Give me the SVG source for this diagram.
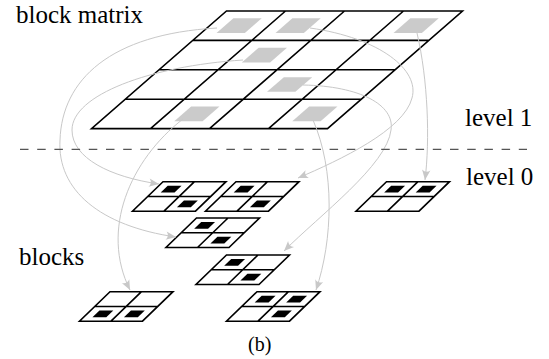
<svg xmlns="http://www.w3.org/2000/svg" width="549" height="359" viewBox="0 0 549 359">
<style>
.grid{fill:none;stroke:#000;stroke-width:1.6;stroke-linejoin:miter}
.gsq{fill:#cbcbcb}
.bframe{fill:#fff;stroke:#000;stroke-width:1.6;stroke-linejoin:miter}
.bsq{fill:#000}
.conn{fill:none;stroke:#c8c8c8;stroke-width:1}
.dash{fill:none;stroke:#555;stroke-width:1.2;stroke-dasharray:8.5 8.7}
text{font-family:"Liberation Serif","Times New Roman",serif !important;fill:#000}
</style>
<defs>
<polygon id="gq" class="gsq" points="6.9,7.35 35.22,7.35 18.35,22.05 -9.97,22.05"/>
<path id="bf" class="bframe" d="M0,0 H63 L32.5,29.5 H-30.5 Z M-15.25,14.75 H47.75 M31.5,0 L1,29.5"/>
<polygon id="bq" class="bsq" points="4.70,3.98 18.56,3.98 11.55,10.77 -2.31,10.77"/>
<marker id="arr" markerUnits="userSpaceOnUse" viewBox="-11 -5 12 10" refX="0" refY="0" markerWidth="12" markerHeight="10" orient="auto">
<path d="M0,0 L-10,-4.2 Q-6.5,0 -10,4.2 Z" fill="#c8c8c8"/>
</marker>
</defs>
<rect width="549" height="359" fill="#fff"/>

<g id="matrix">
<use href="#gq" x="226.5" y="11"/>
<use href="#gq" x="285.5" y="11"/>
<use href="#gq" x="403.5" y="11"/>
<use href="#gq" x="251.75" y="40.4"/>
<use href="#gq" x="277" y="69.8"/>
<use href="#gq" x="184.25" y="99.2"/>
<use href="#gq" x="302.25" y="99.2"/>
<path class="grid" d="M226.5,11 H462.5 L327.5,128.6 H91.5 Z M192.75,40.4 H428.75 M159,69.8 H395 M125.25,99.2 H361.25 M285.5,11 L150.5,128.6 M344.5,11 L209.5,128.6 M403.5,11 L268.5,128.6"/>
</g>

<g id="block-a" transform="translate(163,181.7)">
<use href="#bf"/><use href="#bq"/><use href="#bq" x="16.25" y="14.75"/>
</g>
<g id="block-b" transform="translate(236,181.7)">
<use href="#bf"/><use href="#bq"/><use href="#bq" x="16.25" y="14.75"/>
</g>
<g id="block-e" transform="translate(386.5,181.7)">
<use href="#bf"/><use href="#bq"/><use href="#bq" x="31.5" y="0"/>
</g>
<g id="block-c" transform="translate(196.5,218)">
<use href="#bf"/><use href="#bq"/><use href="#bq" x="16.25" y="14.75"/>
</g>
<g id="block-d" transform="translate(226.5,255)">
<use href="#bf"/><use href="#bq"/><use href="#bq" x="16.25" y="14.75"/>
</g>
<g id="block-f" transform="translate(110,291.7)">
<use href="#bf"/><use href="#bq" x="-15.25" y="14.75"/><use href="#bq" x="16.25" y="14.75"/>
</g>
<g id="block-g" transform="translate(257,291.7)">
<use href="#bf"/><use href="#bq"/><use href="#bq" x="31.5" y="0"/><use href="#bq" x="16.25" y="14.75"/>
</g>

<g id="connectors">
<path class="conn" marker-end="url(#arr)" d="M243,60 C150,66 72,95 72,130 C72,158 110,177 159,184"/>
<path class="conn" marker-end="url(#arr)" d="M217,28 C110,34 62,80 60,140 C57,190 100,226 176,237"/>
<path class="conn" marker-end="url(#arr)" d="M183,119 C130,160 100,230 130,290"/>
<path class="conn" marker-end="url(#arr)" d="M310,28 C380,38 420,70 412,98 C404,130 340,160 298,178"/>
<path class="conn" marker-end="url(#arr)" d="M303,85 C360,86 395,105 391,130 C387,165 320,215 284,251"/>
<path class="conn" marker-end="url(#arr)" d="M313,120 C335,170 333,240 316,290"/>
<path class="conn" marker-end="url(#arr)" d="M417,33 C428,80 430,140 425,180"/>
</g>

<line id="divider" class="dash" x1="20" y1="149.3" x2="527" y2="149.3"/>

<g id="labels">
<text x="16" y="23.3" font-size="25" font-family="Liberation Serif" style="font-family:'Liberation Serif',serif !important">block matrix</text>
<text x="465" y="126" font-size="25" font-family="Liberation Serif" style="font-family:'Liberation Serif',serif !important">level 1</text>
<text x="466" y="184.5" font-size="25" font-family="Liberation Serif" style="font-family:'Liberation Serif',serif !important">level 0</text>
<text x="19" y="265" font-size="25" font-family="Liberation Serif" style="font-family:'Liberation Serif',serif !important">blocks</text>
<text x="248" y="350.5" font-size="20" font-family="Liberation Serif" style="font-family:'Liberation Serif',serif !important">(b)</text>
</g>
</svg>
